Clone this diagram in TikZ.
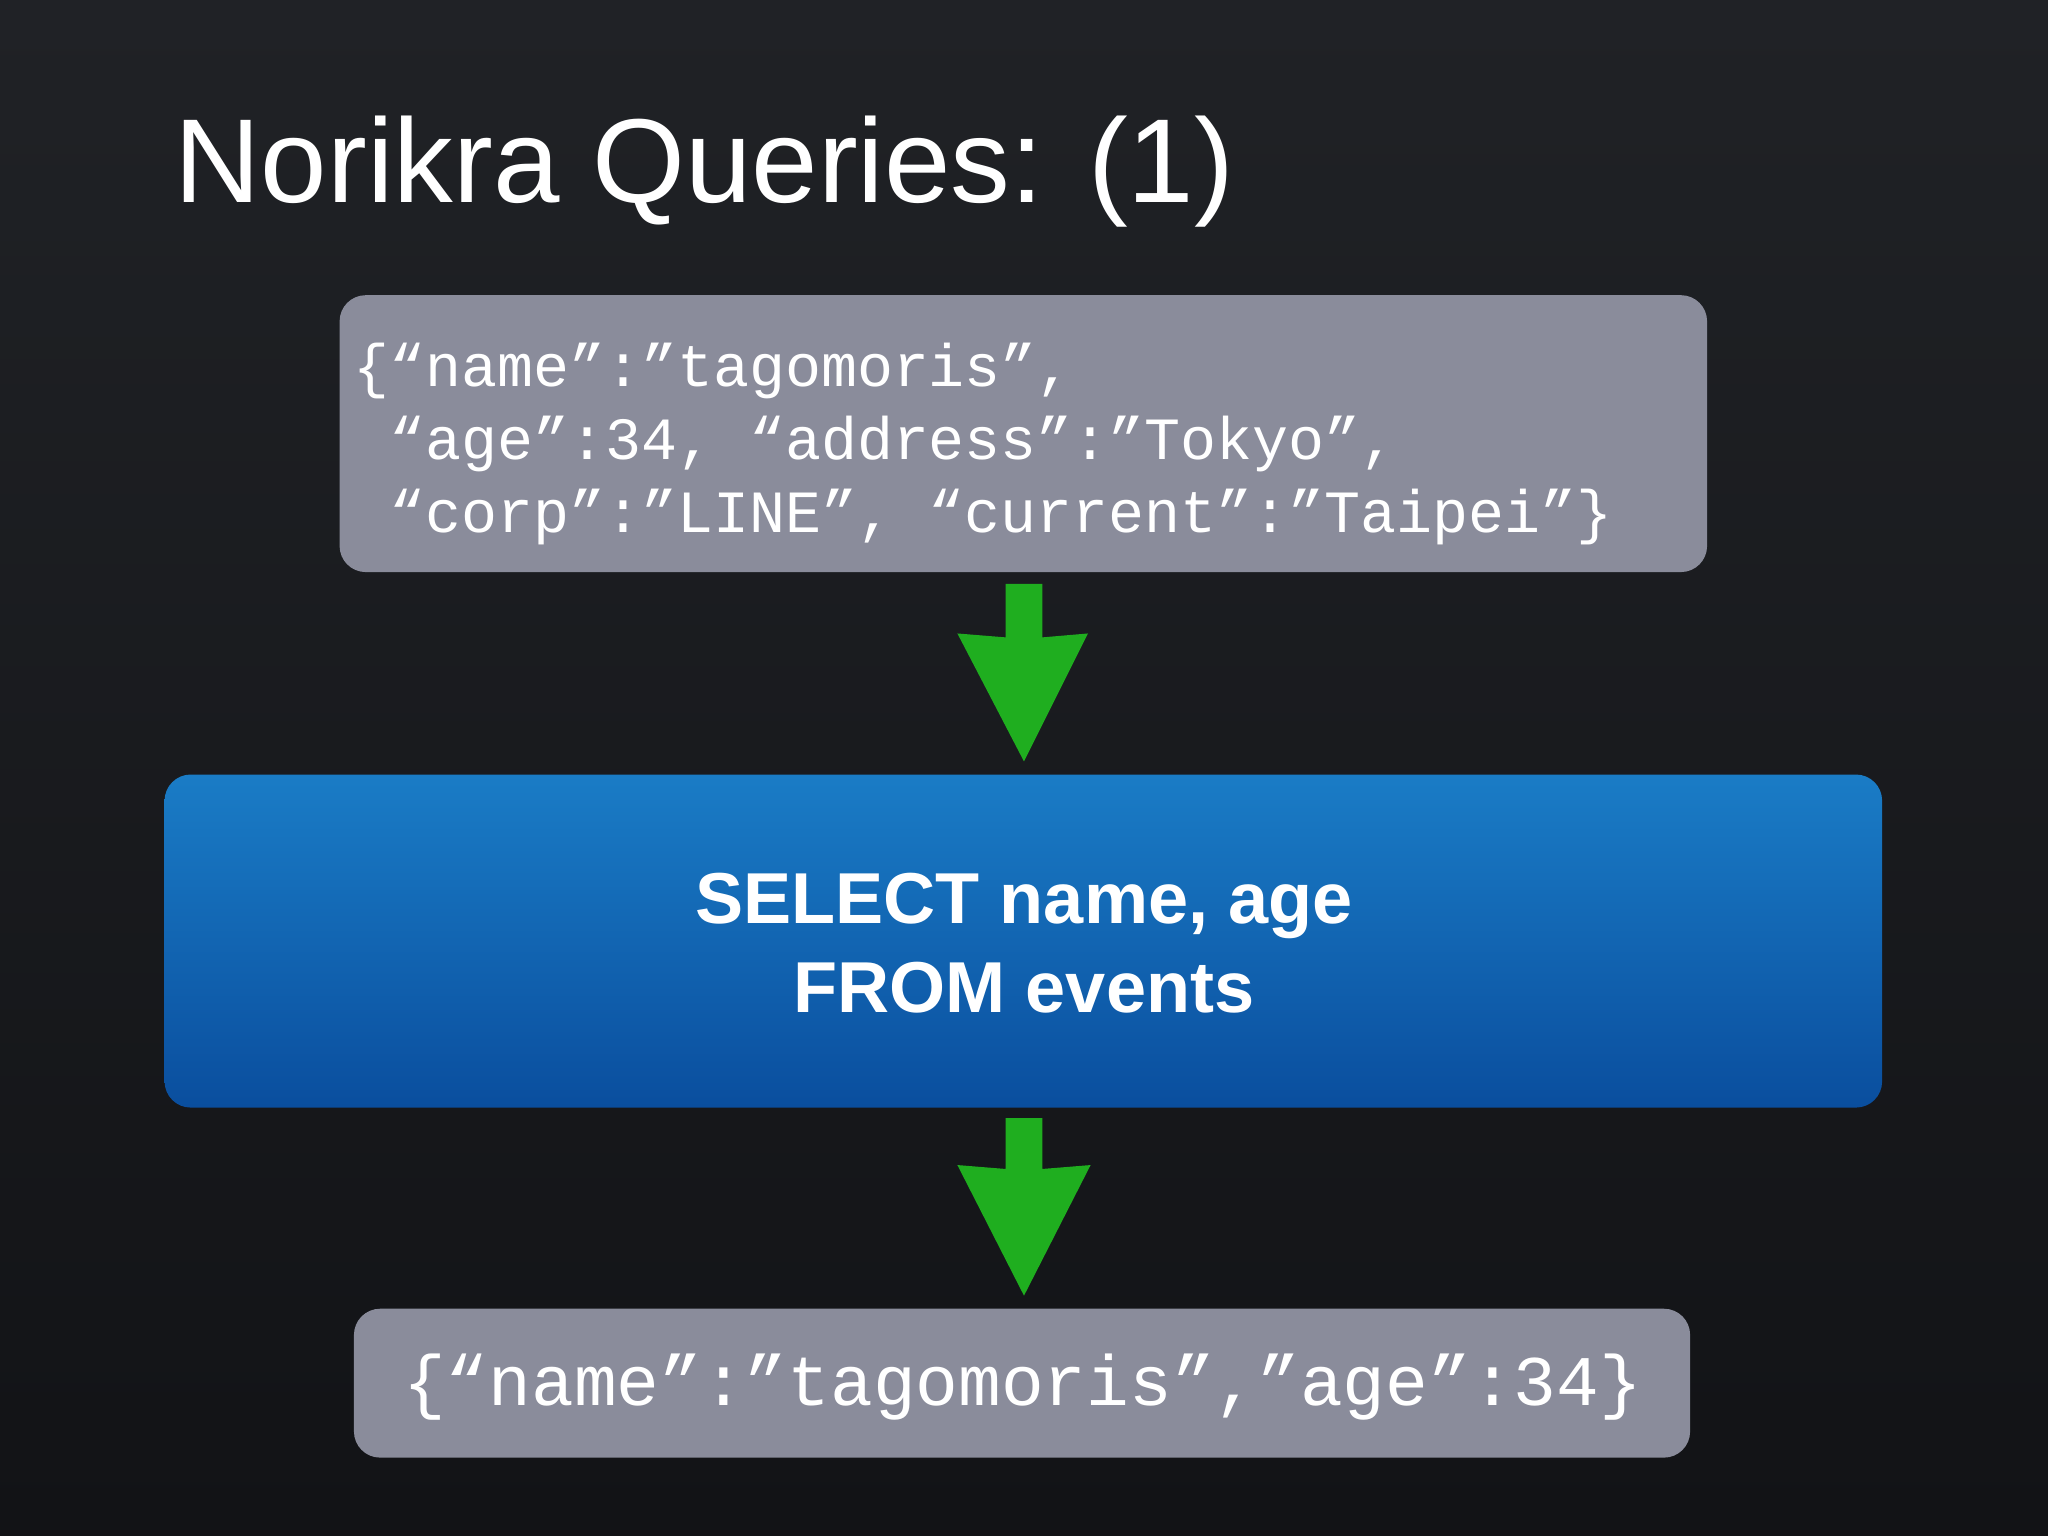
\documentclass[tikz,border=0pt]{standalone}
\usepackage{fontspec}
\setmainfont{Liberation Sans}
\newfontfamily\monof{Liberation Mono}
\definecolor{bgtop}{HTML}{202226}
\definecolor{bgbot}{HTML}{121316}
\definecolor{graybox}{HTML}{8A8C9B}
\definecolor{bluetop}{HTML}{1A7CC6}
\definecolor{bluebot}{HTML}{0A4E9E}
\definecolor{arrg}{HTML}{1FAE1F}
\tikzset{
  px/.style={x=0.01cm,y=-0.01cm},
  gbox/.style={fill=graybox,rounded corners=0.2cm},
  garrow/.style={fill=arrg,draw=none},
  monotext/.style={text=white,inner sep=0pt,anchor=base west,font=\monof\fontsize{13.05}{15}\selectfont},
}
\begin{document}
\begin{tikzpicture}[px]
\useasboundingbox (0,0) rectangle (1568,1176);
\shade[top color=bgtop, bottom color=bgbot] (0,0) rectangle (1568,1176);
\node[text=white,inner sep=0pt,font=\fontsize{26}{30}\selectfont,anchor=base west] (title) at (133,155) {Norikra Queries: (1)};
% box 1
\fill[gbox] (260,226) rectangle (1307,438);
\node[monotext] (l1) at (270,296) {\{“name”:”tagomoris”,};
\node[monotext] (l2) at (270,352) {\ “age”:34, “address”:”Tokyo”,};
\node[monotext] (l3) at (270,408) {\ “corp”:”LINE”, “current”:”Taipei”\}};
% arrow 1
\fill[garrow] (770,447) -- (798,447) -- (798,488) -- (833,485) -- (784,583) -- (733,485) -- (770,488) -- cycle;
% blue box
\shade[top color=bluetop,bottom color=bluebot,rounded corners=0.2cm] (126,593) rectangle (1441,848);
\node[text=white,font=\bfseries\fontsize{15.7}{19.5}\selectfont,align=center] (q) at (784,722) {SELECT name, age\\FROM events};
% arrow 2
\fill[garrow] (770,856) -- (798,856) -- (798,895) -- (835,892) -- (784,992) -- (733,892) -- (770,895) -- cycle;
% box 3
\fill[gbox] (271,1002) rectangle (1294,1116);
\node[text=white,font=\monof\fontsize{15.5}{18}\selectfont] (r) at (783,1062) {\{“name”:”tagomoris”,”age”:34\}};
\end{tikzpicture}
\end{document}
